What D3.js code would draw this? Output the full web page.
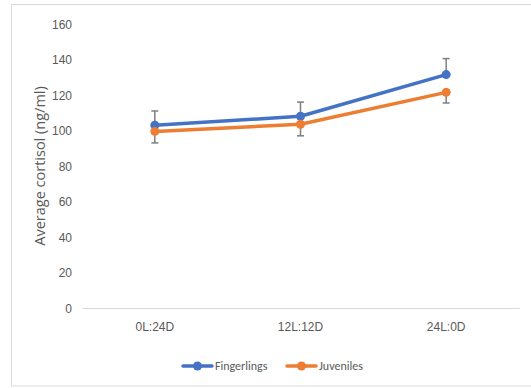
<!DOCTYPE html>
<html>
<head>
<meta charset="utf-8">
<script src="https://cdn.jsdelivr.net/npm/d3@7"></script>
<style>
  html, body { margin: 0; padding: 0; background: #fff; }
  svg { display: block; font-family: Calibri, Carlito, "Liberation Sans Narrow", "Open Sans", sans-serif; }
</style>
</head>
<body>
<svg id="chart" width="531" height="388"></svg>
<script>
// Photoperiod treatments
const categories = ["0L:24D", "12L:12D", "24L:0D"];
// Mean cortisol (ng/ml) per group
const fingerlings = [103, 108, 131.5];
const juveniles = [99.5, 103.5, 121.5];
// Standard error shown above the Fingerlings line and below the Juveniles line
const fingerlingsErr = [8, 8, 9];
const juvenilesErr = [6.5, 6.5, 6];
const yTicks = [0, 20, 40, 60, 80, 100, 120, 140, 160];
const seriesNames = ["Fingerlings", "Juveniles"];
const seriesColors = ["#4472C4", "#ED7D31"];

const svg = d3.select("#chart");
const W = 531, H = 388;
const plot = { left: 82, right: 519, top: 24, bottom: 308 };

// Chart area frame
svg.append("rect")
  .attr("x", 11.5).attr("y", 4.5)
  .attr("width", W + 10).attr("height", 381.5)
  .attr("fill", "#fff").attr("stroke", "#d9d9d9").attr("stroke-width", 1);

const x = d3.scaleBand().domain(categories).range([plot.left, plot.right]);
const y = d3.scaleLinear().domain([0, 160]).range([plot.bottom, plot.top]);

// Y axis labels (no axis line)
const yAxis = d3.axisLeft(y).tickValues(yTicks).tickSize(0).tickPadding(0);
const gy = svg.append("g").attr("transform", `translate(${plot.left - 10},0)`).call(yAxis);
gy.select(".domain").remove();
gy.selectAll("text").attr("fill", "#595959").style("font-size", "12px")
  .attr("dy", "0.35em");

// X axis
const xAxis = d3.axisBottom(x).tickSize(0).tickPadding(14);
const gx = svg.append("g").attr("transform", `translate(0,${plot.bottom})`).call(xAxis);
gx.select(".domain").attr("stroke", "#d9d9d9").attr("stroke-width", 1.2);
gx.selectAll("text").attr("fill", "#595959").style("font-size", "12px");

// Y axis title
svg.append("text")
  .attr("transform", `translate(45,${(plot.top + plot.bottom) / 2}) rotate(-90)`)
  .attr("text-anchor", "middle")
  .attr("fill", "#595959")
  .style("font-family", "'Open Sans', sans-serif")
  .style("font-size", "14.5px")
  .text("Average cortisol (ng/ml)");

const cx = c => x(c) + x.bandwidth() / 2;

// Error bars
function errorBars(values, errs, dir) {
  const g = svg.append("g").attr("stroke", "#7f7f7f").attr("stroke-width", 1.5);
  categories.forEach((c, i) => {
    const y0 = y(values[i]);
    const y1 = y(values[i] + dir * errs[i]);
    g.append("line").attr("x1", cx(c)).attr("x2", cx(c)).attr("y1", y0).attr("y2", y1);
    g.append("line").attr("x1", cx(c) - 3.5).attr("x2", cx(c) + 3.5).attr("y1", y1).attr("y2", y1);
  });
}
errorBars(fingerlings, fingerlingsErr, 1);
errorBars(juveniles, juvenilesErr, -1);

// Lines and markers
const line = d3.line().x((d, i) => cx(categories[i])).y(d => y(d));
[fingerlings, juveniles].forEach((vals, k) => {
  svg.append("path").datum(vals)
    .attr("d", line).attr("fill", "none")
    .attr("stroke", seriesColors[k]).attr("stroke-width", 3.5)
    .attr("stroke-linejoin", "round").attr("stroke-linecap", "round");
  svg.selectAll(null).data(vals).enter().append("circle")
    .attr("cx", (d, i) => cx(categories[i])).attr("cy", d => y(d))
    .attr("r", 4.5).attr("fill", seriesColors[k]);
});

// Legend
const legendItems = [
  { name: seriesNames[0], color: seriesColors[0], x: 183 },
  { name: seriesNames[1], color: seriesColors[1], x: 287 }
];
const ly = 366;
legendItems.forEach(it => {
  svg.append("line").attr("x1", it.x).attr("x2", it.x + 29).attr("y1", ly).attr("y2", ly)
    .attr("stroke", it.color).attr("stroke-width", 3.5).attr("stroke-linecap", "round");
  svg.append("circle").attr("cx", it.x + 14.5).attr("cy", ly).attr("r", 4.5).attr("fill", it.color);
  svg.append("text").attr("x", it.x + 32).attr("y", ly).attr("dy", "0.35em")
    .attr("fill", "#595959").style("font-size", "12px").text(it.name);
});
</script>
</body>
</html>
